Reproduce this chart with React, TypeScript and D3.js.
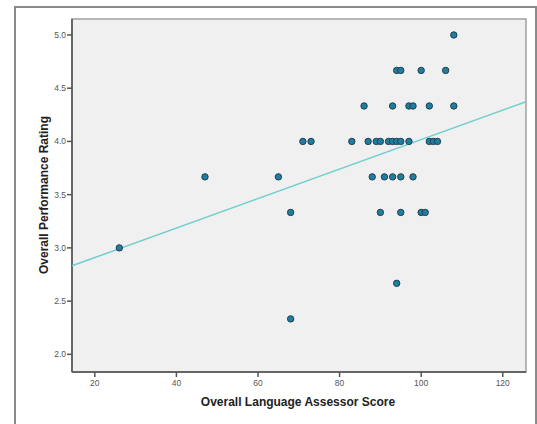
import React from "react";
import * as d3 from "d3";

const xValues = [26, 47, 65, 68, 68, 71, 73, 83, 86, 87, 88, 89, 90, 92, 93, 94, 95, 97, 102, 103, 104, 91, 93, 95, 98, 90, 95, 100, 101, 93, 97, 98, 102, 108, 94, 95, 100, 106, 108, 94];
const yValues = [3.0, 3.667, 3.667, 3.333, 2.333, 4, 4, 4, 4.333, 4, 3.667, 4, 4, 4, 4, 4, 4, 4, 4, 4, 4, 3.667, 3.667, 3.667, 3.667, 3.333, 3.333, 3.333, 3.333, 4.333, 4.333, 4.333, 4.333, 4.333, 4.667, 4.667, 4.667, 4.667, 5.0, 2.667];
const xTicks = [20, 40, 60, 80, 100, 120];
const yTicks = [2.0, 2.5, 3.0, 3.5, 4.0, 4.5, 5.0];
const fitIntercept = 2.632;
const fitSlope = 0.01385;
const xTitle = "Overall Language Assessor Score";
const yTitle = "Overall Performance Rating";

export default function App() {
  const W = 537, H = 424;
  const left = 72, right = 526, top = 19, bottom = 372;
  const x = d3.scaleLinear().domain([14.4, 125.7]).range([left, right]);
  const y = d3.scaleLinear().domain([1.834, 5.15]).range([bottom, top]);
  const [x0, x1] = x.domain();
  const line = d3.line<number>().x((d) => x(d)).y((d) => y(fitIntercept + fitSlope * d));
  const font = "'Liberation Sans', Arial, sans-serif";
  return (
    <svg width={W} height={H} style={{ position: "absolute", left: 0, top: 0, background: "#fff" }}>
      <rect x={15} y={7} width={521} height={430} fill="none" stroke="#8a8a8a" strokeWidth={2} />
      <rect x={left} y={top} width={right - left} height={bottom - top} fill="#f0f0f0" stroke="#a0a0a0" strokeWidth={1.5} />
      <line x1={left} y1={top} x2={left} y2={bottom} stroke="#666" strokeWidth={2} />
      <line x1={left} y1={bottom} x2={right} y2={bottom} stroke="#666" strokeWidth={2} />
      {yTicks.map((t) => (
        <g key={"y" + t}>
          <line x1={left - 5} x2={left} y1={y(t)} y2={y(t)} stroke="#555" strokeWidth={1.5} />
          <text x={left - 6} y={y(t)} dy="0.35em" textAnchor="end" fontSize={8.5} fill="#555" fontFamily={font}>
            {t.toFixed(1)}
          </text>
        </g>
      ))}
      {xTicks.map((t) => (
        <g key={"x" + t}>
          <line x1={x(t)} x2={x(t)} y1={bottom} y2={bottom + 5} stroke="#555" strokeWidth={1.5} />
          <text x={x(t)} y={bottom + 14} textAnchor="middle" fontSize={8.5} fill="#555" fontFamily={font}>
            {t}
          </text>
        </g>
      ))}
      <path d={line([x0, x1]) || ""} fill="none" stroke="#6fcfcf" strokeWidth={1.5} />
      {xValues.map((v, i) => (
        <circle key={i} cx={x(v)} cy={y(yValues[i])} r={3.2} fill="#1f7ea0" stroke="#203f4e" strokeWidth={1} />
      ))}
      <text x={298} y={406} textAnchor="middle" fontSize={12} fontWeight="bold" fill="#222" fontFamily={font}>
        {xTitle}
      </text>
      <text transform={`translate(48, 195) rotate(-90)`} textAnchor="middle" fontSize={12} fontWeight="bold" fill="#222" fontFamily={font}>
        {yTitle}
      </text>
    </svg>
  );
}
